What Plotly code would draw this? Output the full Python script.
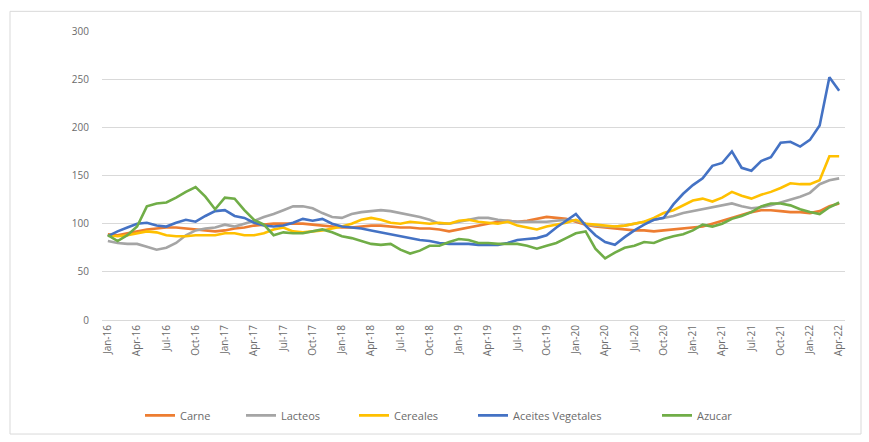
import plotly.graph_objects as go

months = ["Jan", "Feb", "Mar", "Apr", "May", "Jun", "Jul", "Aug", "Sep", "Oct", "Nov", "Dec"]
fechas = [f"{m}-{y}" for y in range(16, 23) for m in months][:76]

carne = [89, 88, 90, 92, 94, 95, 96, 96, 95, 94, 93, 92, 93, 95, 96, 98, 99, 100, 100, 100,
         100, 99, 98, 97, 96, 96, 97, 98, 98, 97, 96, 96, 95, 95, 94, 92, 94, 96, 98, 100,
         102, 103, 102, 103, 105, 107, 106, 105, 102, 99, 97, 96, 95, 94, 93, 93, 92, 93, 94, 95,
         96, 97, 100, 103, 106, 109, 112, 114, 114, 113, 112, 112, 111, 113, 118, 121]
lacteos = [82, 80, 79, 79, 76, 73, 75, 80, 88, 93, 95, 96, 99, 97, 100, 103, 107, 110, 114, 118,
           118, 116, 111, 107, 106, 110, 112, 113, 114, 113, 111, 109, 107, 104, 100, 100, 102, 104, 106, 106,
           104, 103, 102, 102, 102, 102, 103, 104, 103, 100, 98, 97, 97, 98, 100, 102, 104, 106, 108, 111,
           113, 115, 117, 119, 121, 118, 116, 117, 119, 122, 125, 128, 132, 141, 145, 147]
cereales = [88, 87, 88, 90, 92, 91, 88, 87, 87, 88, 88, 88, 90, 90, 88, 88, 90, 94, 96, 92,
            91, 92, 93, 95, 97, 100, 104, 106, 104, 101, 100, 102, 101, 100, 101, 100, 103, 104, 102, 101,
            100, 102, 98, 96, 94, 97, 99, 101, 104, 100, 99, 98, 97, 98, 100, 102, 106, 111, 114, 119,
            124, 126, 123, 127, 133, 129, 126, 130, 133, 137, 142, 141, 141, 145, 170, 170]
aceites = [87, 92, 96, 100, 101, 98, 97, 101, 104, 102, 108, 113, 114, 108, 106, 101, 98, 97, 98, 101,
           105, 103, 105, 100, 97, 96, 95, 93, 91, 89, 87, 85, 83, 82, 80, 79, 79, 79, 78, 78,
           78, 80, 83, 84, 85, 88, 96, 103, 110, 98, 88, 81, 78, 86, 93, 99, 104, 106, 120, 131,
           140, 147, 160, 163, 175, 158, 155, 165, 169, 184, 185, 180, 187, 202, 252, 238]
azucar = [88, 82, 88, 97, 118, 121, 122, 127, 133, 138, 128, 115, 127, 126, 114, 104, 99, 88, 91, 90,
          90, 92, 94, 91, 87, 85, 82, 79, 78, 79, 73, 69, 72, 77, 77, 81, 84, 83, 80, 80,
          79, 79, 79, 77, 74, 77, 80, 85, 90, 92, 74, 64, 70, 75, 77, 81, 80, 84, 87, 89,
          93, 99, 97, 100, 105, 108, 112, 118, 121, 121, 119, 115, 112, 110, 117, 122]

series = [
    ("Carne", carne, "#ED7D31"),
    ("Lacteos", lacteos, "#A5A5A5"),
    ("Cereales", cereales, "#FFC000"),
    ("Aceites Vegetales", aceites, "#4472C4"),
    ("Azucar", azucar, "#70AD47"),
]
legend_starts = [147, 248, 361, 480, 664]

W, H = 869, 442
L, R, T, B = 102, 24, 31, 117
pw, ph = W - L - R, H - T - B
leg_y = -(422 - (T + ph)) / ph

x = list(range(len(fechas)))
fig = go.Figure()
legends = {}
for i, (name, vals, col) in enumerate(series):
    key = "legend" if i == 0 else f"legend{i + 1}"
    fig.add_trace(go.Scatter(x=x, y=vals, name=name, mode="lines",
                             line=dict(color=col, width=2.6), legend=key))
    legends[key] = dict(orientation="h", x=(legend_starts[i] - 7 - L) / pw, xanchor="left",
                        y=leg_y, yanchor="middle",
                        font=dict(family="Open Sans", size=11, color="#6b6b6b"),
                        bgcolor="rgba(0,0,0,0)")

fig.update_layout(
    width=W, height=H,
    margin=dict(l=L, r=R, t=T, b=B, pad=0),
    paper_bgcolor="white", plot_bgcolor="white",
    font=dict(family="Open Sans", size=10, color="#6b6b6b"),
    showlegend=True,
    xaxis=dict(range=[-0.6, 75.6], tickmode="array",
               tickvals=x[::3], ticktext=fechas[::3], tickangle=-90,
               showgrid=False, zeroline=False, showline=True,
               linecolor="#d9d9d9", linewidth=1, ticks="",
               tickfont=dict(size=10, color="#6b6b6b")),
    yaxis=dict(range=[0, 300], tickvals=[0, 50, 100, 150, 200, 250, 300],
               showgrid=True, gridcolor="#d9d9d9", gridwidth=1,
               zeroline=False, showline=False, ticks="",
               ticklabelstandoff=12,
               tickfont=dict(size=10, color="#6b6b6b")),
    shapes=[dict(type="rect", xref="paper", yref="paper",
                 x0=(10 - L) / pw, x1=(861 - L) / pw,
                 y0=-(441 - (T + ph)) / ph, y1=(T + ph - 11) / ph,
                 line=dict(color="#d9d9d9", width=1), layer="below")],
    **legends,
)

fig.write_html("out.html")
